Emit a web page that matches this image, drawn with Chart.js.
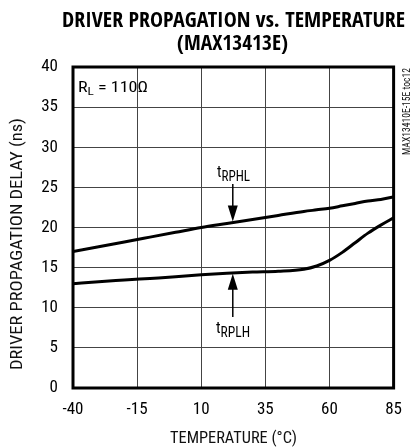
<!DOCTYPE html>
<html>
<head>
<meta charset="utf-8">
<script src="https://cdn.jsdelivr.net/npm/chart.js@4/dist/chart.umd.min.js"></script>
<style>
  html, body { margin: 0; padding: 0; background: #fff; }
  #wrap { width: 414px; height: 447px; position: relative; }
</style>
</head>
<body>
<div id="wrap"><canvas id="chart"></canvas></div>
<script>
// Values
const temps = [-40, -30, -20, -10, 0, 10, 20, 30, 40, 50, 55, 60, 65, 70, 75, 80, 85];
const tRPHL = [17.0, 17.6, 18.2, 18.8, 19.4, 20.0, 20.5, 21.0, 21.5, 22.0, 22.2, 22.4, 22.7, 23.0, 23.3, 23.5, 23.8];
const tRPLH = [13.0, 13.25, 13.45, 13.65, 13.85, 14.1, 14.3, 14.45, 14.55, 14.8, 15.2, 15.9, 16.9, 18.1, 19.3, 20.3, 21.2];
const xTicks = [-40, -15, 10, 35, 60, 85];
const yTicks = [0, 5, 10, 15, 20, 25, 30, 35, 40];

const COND = "'Roboto Condensed', 'Liberation Sans Narrow', sans-serif";
const HEAVY = "'Open Sans Condensed', 'Roboto Condensed', sans-serif";

// draw text squeezed to a given width (the original uses a narrow Helvetica)
function fitText(ctx, text, x, y, font, width, align) {
    ctx.font = font;
    const w = ctx.measureText(text).width;
    const sx = width / w;
    ctx.save();
    ctx.translate(x, y);
    ctx.scale(sx, 1);
    ctx.textAlign = align || 'center';
    ctx.fillText(text, 0, 0);
    ctx.restore();
}

// text with a subscript, squeezed so the whole thing is `width` wide
function subText(ctx, main, sub, x, y, size, subSize, drop, width) {
    ctx.font = size + "px " + COND;
    const w1 = ctx.measureText(main).width;
    ctx.font = subSize + "px " + COND;
    const w2 = ctx.measureText(sub).width;
    const sx = width / (w1 + w2);
    ctx.save();
    ctx.translate(x, y);
    ctx.scale(sx, 1);
    ctx.textAlign = 'left';
    ctx.font = size + "px " + COND;
    ctx.fillText(main, 0, 0);
    ctx.font = subSize + "px " + COND;
    ctx.fillText(sub, w1, drop);
    ctx.restore();
}

const decorations = {
    id: 'decorations',
    afterDraw(chart) {
        const ctx = chart.ctx;
        const a = chart.chartArea;
        const xs = chart.scales.x, ys = chart.scales.y;
        ctx.save();
        ctx.fillStyle = '#000';
        ctx.textBaseline = 'alphabetic';

        // frame
        ctx.strokeStyle = '#000';
        ctx.lineWidth = 3;
        ctx.strokeRect(a.left, a.top, a.right - a.left, a.bottom - a.top);

        // title
        fitText(ctx, 'DRIVER PROPAGATION vs. TEMPERATURE', 233.5, 27, "bold 21px " + HEAVY, 343);
        fitText(ctx, '(MAX13413E)', 232.5, 50, "bold 21px " + HEAVY, 111);

        // axis titles
        ctx.fillStyle = '#111';
        fitText(ctx, 'TEMPERATURE (\u00B0C)', 233.5, 443, "17px " + COND, 127);
        ctx.save();
        ctx.translate(22, 244);
        ctx.rotate(-Math.PI / 2);
        fitText(ctx, 'DRIVER PROPAGATION DELAY (ns)', 0, 0, "17px " + COND, 252);
        ctx.restore();

        // side code
        ctx.save();
        ctx.translate(410, 155);
        ctx.rotate(-Math.PI / 2);
        fitText(ctx, 'MAX13410E-15E toc12', 0, 0, "11px " + COND, 87, 'left');
        ctx.restore();
        ctx.fillStyle = '#000';

        // R_L label
        ctx.font = "15px " + COND;
        const wR = ctx.measureText('R').width;
        ctx.font = "11px " + COND;
        const wL = ctx.measureText('L').width;
        ctx.font = "15px " + COND;
        const wRest = ctx.measureText(' = 110\u03A9').width;
        const sx = 70 / (wR + wL + wRest);
        ctx.save();
        ctx.translate(a.left + 5, 92);
        ctx.scale(sx, 1);
        ctx.textAlign = 'left';
        ctx.font = "15px " + COND;
        ctx.fillText('R', 0, 0);
        ctx.font = "11px " + COND;
        ctx.fillText('L', wR, 3);
        ctx.font = "15px " + COND;
        ctx.fillText(' = 110\u03A9', wR + wL, 0);
        ctx.restore();

        function arrow(px, y0, y1) {
            const dir = y1 > y0 ? 1 : -1;
            ctx.strokeStyle = '#000';
            ctx.lineWidth = 1.5;
            ctx.beginPath();
            ctx.moveTo(px, y0);
            ctx.lineTo(px, y1 - dir * 12);
            ctx.stroke();
            ctx.beginPath();
            ctx.moveTo(px, y1);
            ctx.lineTo(px - 5, y1 - dir * 16);
            ctx.lineTo(px + 5, y1 - dir * 16);
            ctx.closePath();
            ctx.fill();
        }

        const ax = xs.getPixelForValue(22.3);

        // tRPHL label and arrow down to its curve
        subText(ctx, 't', 'RPHL', 217, 177, 16, 14, 4, 33);
        arrow(ax, 184, ys.getPixelForValue(20.75));

        // tRPLH label and arrow up to its curve
        subText(ctx, 't', 'RPLH', 216, 333, 16, 14, 4, 34);
        arrow(ax, 317, ys.getPixelForValue(14.25));

        ctx.restore();
    }
};

new Chart(document.getElementById('chart'), {
    type: 'line',
    data: {
        datasets: [
            {
                label: 'tRPHL',
                data: temps.map((t, i) => ({ x: t, y: tRPHL[i] })),
                borderColor: '#000',
                borderWidth: 3,
                pointRadius: 0,
                cubicInterpolationMode: 'monotone'
            },
            {
                label: 'tRPLH',
                data: temps.map((t, i) => ({ x: t, y: tRPLH[i] })),
                borderColor: '#000',
                borderWidth: 3,
                pointRadius: 0,
                cubicInterpolationMode: 'monotone'
            }
        ]
    },
    options: {
        responsive: true,
        maintainAspectRatio: false,
        animation: false,
        layout: { padding: { top: 67, right: 20, left: 0, bottom: 0 } },
        plugins: {
            legend: { display: false },
            tooltip: { enabled: false }
        },
        scales: {
            x: {
                type: 'linear',
                min: -40,
                max: 85,
                afterBuildTicks: (s) => { s.ticks = xTicks.map(v => ({ value: v })); },
                afterFit: (s) => { s.height = 59; },
                grid: { color: '#444', lineWidth: 1, drawTicks: false },
                border: { display: false },
                ticks: {
                    padding: 12,
                    color: '#000',
                    font: { family: COND, size: 17 }
                }
            },
            y: {
                min: 0,
                max: 40,
                afterBuildTicks: (s) => { s.ticks = yTicks.map(v => ({ value: v })); },
                afterFit: (s) => { s.width = 73; },
                grid: { color: '#444', lineWidth: 1, drawTicks: false },
                border: { display: false },
                ticks: {
                    padding: 15,
                    color: '#000',
                    font: { family: COND, size: 17 }
                }
            }
        }
    },
    plugins: [decorations]
});
</script>
</body>
</html>
